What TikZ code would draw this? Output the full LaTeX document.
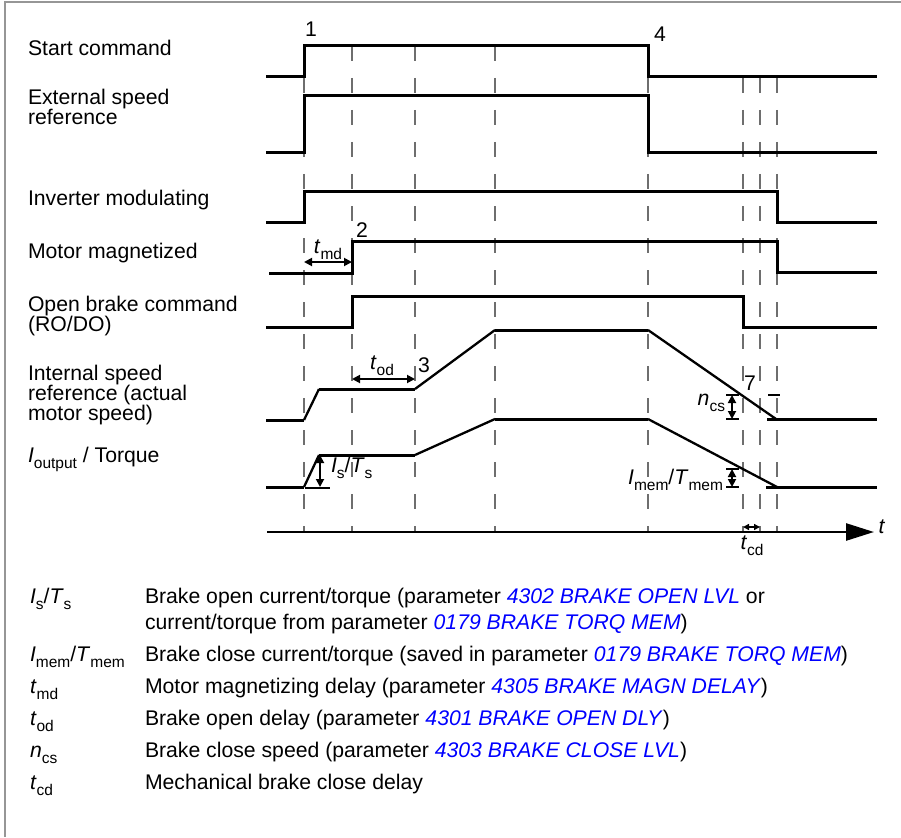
\documentclass[tikz,border=0pt]{standalone}
\usepackage{fontspec}
\setmainfont{Liberation Sans}
\usetikzlibrary{arrows.meta}
\definecolor{linkblue}{RGB}{0,0,255}
\definecolor{dashgray}{RGB}{110,110,110}
\definecolor{framegray}{RGB}{150,150,150}
\newcommand{\lowidx}[1]{\raisebox{-0.3em}{\fontsize{15.5}{16}\selectfont #1}}
\newcommand{\vsym}[2]{\textit{#1}\lowidx{#2}}
\newcommand{\plink}[1]{\textcolor{linkblue}{\textit{#1}}}
\begin{document}
\begin{tikzpicture}[x=1pt,y=-1pt,
  font=\fontsize{21.2}{21}\selectfont, inner sep=0pt, outer sep=0pt,
  sig/.style={line width=3pt, line join=miter},
  ramp/.style={line width=2.3pt},
  guide/.style={dashgray, line width=1.1pt, dash pattern=on 15pt off 17pt},
  dimarrow/.style={line width=1.8pt, {Triangle[length=8pt,width=8pt]}-{Triangle[length=8pt,width=8pt]}},
  tickline/.style={line width=1.5pt},
  lbl/.style={anchor=base west},
  ann/.style={anchor=base}]
\useasboundingbox (0,0) rectangle (901,837);
% frame
\draw[framegray, line width=1.5pt] (901,2) -- (5,2) -- (5,837);

% guide lines
\foreach \x in {304,352,415,495,648} \draw[guide] (\x,46) -- (\x,532);
\foreach \x in {743,760,777} \draw[guide] (\x,78) -- (\x,532);

% signals
\draw[sig] (266,77) -- (304,77) -- (304,46) -- (648,46) -- (648,77) -- (877,77);
\draw[sig] (266,153) -- (304,153) -- (304,96) -- (648,96) -- (648,153) -- (877,153);
\draw[sig] (266,222) -- (304,222) -- (304,191) -- (777,191) -- (777,222) -- (877,222);
\draw[sig] (269,273) -- (352,273) -- (352,241) -- (777,241) -- (777,272) -- (877,272);
\draw[sig] (266,327) -- (352,327) -- (352,296) -- (743,296) -- (743,327) -- (877,327);
% internal speed
\draw[sig] (266,420) -- (304,420);
\draw[ramp] (304,420) -- (319,389);
\draw[sig] (319,389) -- (415,389);
\draw[ramp] (415,389) -- (495,330);
\draw[sig] (495,330) -- (648,330);
\draw[ramp] (648,330) -- (776,419);
\draw[sig] (767,419) -- (877,419);
% torque
\draw[sig] (266,487) -- (304,487);
\draw[ramp] (304,487) -- (319,455);
\draw[sig] (319,455) -- (415,455);
\draw[ramp] (415,455) -- (495,419);
\draw[sig] (495,419) -- (648,419);
\draw[ramp] (648,419) -- (777,487);
\draw[sig] (766,487) -- (877,487);

% time axis
\coordinate (ax0) at (267,532);
\coordinate (ax1) at (874,532);
\draw[line width=2.5pt, -{Triangle[length=28pt,width=17pt]}] (ax0) -- (ax1);
\node[ann] (tlab) at (882,533) {\textit{t}};

% dimension arrows
\coordinate (md0) at (304,262); \coordinate (md1) at (352,262);
\draw[dimarrow] (md0) -- (md1);
\coordinate (od0) at (352,379); \coordinate (od1) at (415,379);
\draw[dimarrow] (od0) -- (od1);
\coordinate (is0) at (320,455); \coordinate (is1) at (320,487);
\draw[dimarrow] (is0) -- (is1);
\draw[tickline] (305,488) -- (330,488);
\coordinate (cs0) at (732,395); \coordinate (cs1) at (732,419);
\draw[tickline] (726,395) -- (739,395);
\draw[tickline] (726,419) -- (739,419);
\draw[dimarrow] (cs0) -- (cs1);
\draw[tickline] (768,395) -- (780,395);
\coordinate (mem0) at (732,469); \coordinate (mem1) at (732,487);
\draw[tickline] (726,469) -- (739,469);
\draw[tickline] (726,487) -- (739,487);
\draw[dimarrow] (mem0) -- (mem1);
\coordinate (cd0) at (743,527); \coordinate (cd1) at (760,527);
\draw[line width=1.5pt, {Triangle[length=6pt,width=6pt]}-{Triangle[length=6pt,width=6pt]}] (cd0) -- (cd1);

% annotations
\node[ann] (n1) at (311,37) {1};
\node[ann] (n4) at (660,42) {4};
\node[ann] (n2) at (362,237) {2};
\node[ann] (n3) at (424,372) {3};
\node[ann] (n7) at (750,390) {7};
\node[ann] (tmd) at (328,253) {\vsym{t}{md}};
\node[ann] (tod) at (382,369) {\vsym{t}{od}};
\node[anchor=base west] (isl) at (331,472) {\vsym{I}{s}/\vsym{T}{s}};
\node[anchor=base east] (ncs) at (725,405) {\vsym{n}{cs}};
\node[anchor=base east] (imem) at (723,484) {\vsym{I}{mem}/\vsym{T}{mem}};
\node[ann] (tcd) at (752,549) {\vsym{t}{cd}};

% left labels
\node[lbl] (l1) at (28,56) {Start command};
\node[lbl] (l2a) at (28,105) {External speed};
\node[lbl] (l2b) at (28,125) {reference};
\node[lbl] (l3) at (28,205) {Inverter modulating};
\node[lbl] (l4) at (28,258) {Motor magnetized};
\node[lbl] (l5a) at (28,311) {Open brake command};
\node[lbl] (l5b) at (28,331) {(RO/DO)};
\node[lbl] (l6a) at (28,380) {Internal speed};
\node[lbl] (l6b) at (28,400) {reference (actual};
\node[lbl] (l6c) at (28,420) {motor speed)};
\node[lbl] (l7) at (28,462) {\vsym{I}{output} / Torque};

% legend
\node[lbl] (s1) at (30,603) {\vsym{I}{s}/\vsym{T}{s}};
\node[lbl] (d1a) at (145,603) {Brake open current/torque (parameter \plink{4302 BRAKE OPEN LVL} or};
\node[lbl] (d1b) at (145,629) {current/torque from parameter \plink{0179 BRAKE TORQ MEM})};
\node[lbl] (s2) at (30,661) {\vsym{I}{mem}/\vsym{T}{mem}};
\node[lbl] (d2) at (145,661) {Brake close current/torque (saved in parameter \plink{0179 BRAKE TORQ MEM})};
\node[lbl] (s3) at (30,693) {\vsym{t}{md}};
\node[lbl] (d3) at (145,693) {Motor magnetizing delay (parameter \plink{4305 BRAKE MAGN DELAY})};
\node[lbl] (s4) at (30,725) {\vsym{t}{od}};
\node[lbl] (d4) at (145,725) {Brake open delay (parameter \plink{4301 BRAKE OPEN DLY})};
\node[lbl] (s5) at (30,757) {\vsym{n}{cs}};
\node[lbl] (d5) at (145,757) {Brake close speed (parameter \plink{4303 BRAKE CLOSE LVL})};
\node[lbl] (s6) at (30,789) {\vsym{t}{cd}};
\node[lbl] (d6) at (145,789) {Mechanical brake close delay};
\end{tikzpicture}
\end{document}
